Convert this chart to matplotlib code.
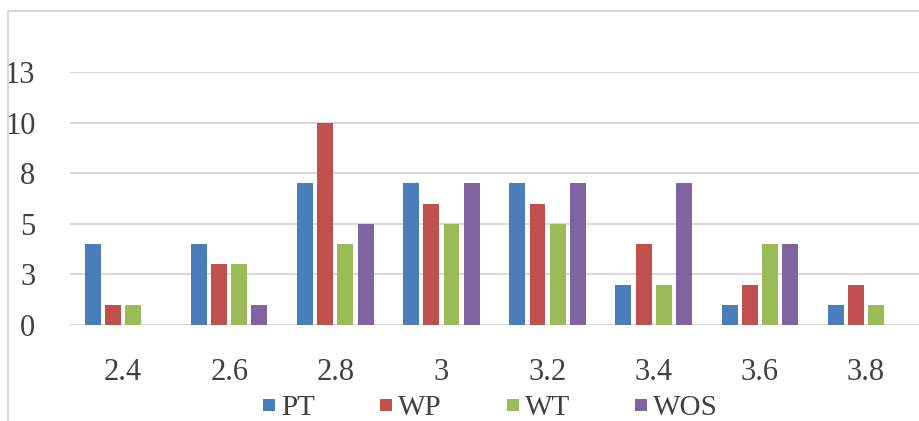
import numpy as np
import matplotlib
matplotlib.use('Agg')
import matplotlib.pyplot as plt
from matplotlib.lines import Line2D
from matplotlib.patches import Rectangle

FONT = 'Liberation Serif'
plt.rcParams['font.family'] = FONT

categories = ['2.4', '2.6', '2.8', '3', '3.2', '3.4', '3.6', '3.8']
pt = [4, 4, 7, 7, 7, 2, 1, 1]
wp = [1, 3, 10, 6, 6, 4, 2, 2]
wt = [1, 3, 4, 5, 5, 2, 4, 1]
wos = [0, 1, 5, 7, 7, 7, 4, 0]
series_names = ['PT', 'WP', 'WT', 'WOS']
colors = ['#4a7ebb', '#c0504d', '#9bbb59', '#8064a2']
y_ticks = [0, 2.5, 5, 7.5, 10, 12.5]
y_tick_labels = ['0', '3', '5', '8', '10', '13']

fig = plt.figure(figsize=(9.19, 4.21), dpi=100)
# outer chart frame
fig.patches.append(Rectangle((8/919, -0.1), 1.1, (421-11)/421 + 0.1, transform=fig.transFigure,
                             fill=False, edgecolor='#d9d9d9', linewidth=1.5))

ax = fig.add_axes([70/919, (421-325)/421, 849/919, 253/421])
x = np.arange(len(categories))
w = 0.15
step = 0.19
for i, (vals, c) in enumerate(zip([pt, wp, wt, wos], colors)):
    ax.bar(x + (i - 1.5)*step, vals, w, color=c, label=series_names[i], zorder=3)

ax.set_xlim(-0.5, len(categories) - 0.5)
ax.set_ylim(0, 12.5)
ax.set_yticks(y_ticks)
ax.set_yticklabels(y_tick_labels, fontfamily=FONT, fontsize=22, color='#404040')
ax.set_xticks(x)
ax.set_xticklabels(categories, fontfamily=FONT, fontsize=22, color='#404040')
ax.tick_params(axis='both', length=0)
ax.tick_params(axis='y', pad=25)
ax.tick_params(axis='x', pad=24)
ax.yaxis.grid(True, color='#d9d9d9', linewidth=1.5, zorder=0)
for s in ax.spines.values():
    s.set_visible(False)

handles = [Line2D([], [], marker='s', linestyle='none', markersize=8, color=c, markeredgewidth=0)
           for c in colors]
fig.legend(handles, series_names, loc='center', bbox_to_anchor=(490/919, (421-408)/421),
           ncol=4, frameon=False, prop={'family': FONT, 'size': 21}, handlelength=0.5,
           handletextpad=0.15, columnspacing=2.2, labelcolor='#404040')

fig.savefig('out.png', dpi=100)
